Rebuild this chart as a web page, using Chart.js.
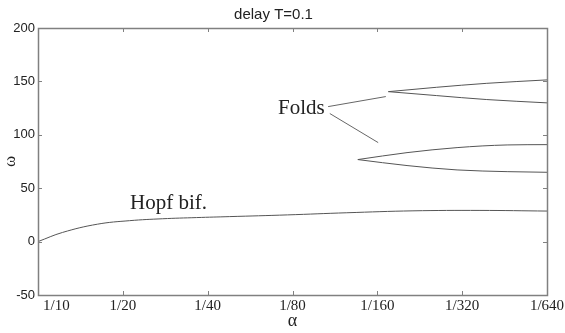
<!DOCTYPE html>
<html>
<head>
<meta charset="utf-8">
<script src="https://cdn.jsdelivr.net/npm/chart.js@4/dist/chart.umd.min.js"></script>
<style>
    body { margin: 0; background: #fff; }
    #wrap { width: 565px; height: 333px; position: relative; }
</style>
</head>
<body>
<div id="wrap"><canvas id="bifChart"></canvas></div>
<script>
// x position is the octave index: 0 -> alpha=1/10, 6 -> alpha=1/640
const alphaLabels = ['1/10', '1/20', '1/40', '1/80', '1/160', '1/320', '1/640'];

// Hopf bifurcation curve
const hopfX = [0, 0.29, 0.70, 1.08, 1.47, 1.87, 2.26, 2.94, 3.64, 4.42, 5.21, 6];
const hopfW = [0, 8.6, 16.3, 19.6, 21.4, 22.5, 23.4, 25, 27, 28.8, 29.2, 28.6];

// lower fold (two branches from the tip)
const fold1X = [3.77, 4.35, 4.94, 5.53, 6];
const fold1Upper = [76.8, 83.3, 88, 90.5, 90.8];
const fold1Lower = [76.8, 71.2, 67.1, 65.5, 64.9];

// upper fold
const fold2X = [4.13, 4.70, 5.29, 6];
const fold2Upper = [140.4, 144.5, 148.2, 151.4];
const fold2Lower = [140.4, 136.7, 133, 129.9];

// pointer lines from the "Folds" label
const pointerA = [[3.42, 126.4], [4.10, 135.8]];
const pointerB = [[3.44, 119.9], [4.01, 92.7]];

// text labels (data coordinates)
const notes = [
    { text: 'Hopf bif.', x: 1.085, y: 35.6 },
    { text: 'Folds', x: 2.83, y: 124.5 }
];

const toPts = (xs, ys) => xs.map((x, i) => ({ x: x, y: ys[i] }));
const pairPts = arr => arr.map(p => ({ x: p[0], y: p[1] }));

const curveStyle = { showLine: true, pointRadius: 0, borderColor: '#555', borderWidth: 1, cubicInterpolationMode: 'monotone', fill: false };

const matlabBox = {
    id: 'matlabBox',
    afterDraw(chart) {
        const ctx = chart.ctx;
        const a = chart.chartArea;
        const xs = chart.scales.x, ys = chart.scales.y;
        ctx.save();
        ctx.strokeStyle = '#808080';
        ctx.lineWidth = 1;
        ctx.beginPath();
        // inward ticks
        xs.ticks.forEach(t => {
            const px = Math.round(xs.getPixelForValue(t.value)) + 0.5;
            if (t.value <= 0 || t.value >= 6) return;
            ctx.moveTo(px, a.bottom); ctx.lineTo(px, a.bottom - 4);
            ctx.moveTo(px, a.top); ctx.lineTo(px, a.top + 4);
        });
        ys.ticks.forEach(t => {
            const py = Math.round(ys.getPixelForValue(t.value)) + 0.5;
            ctx.moveTo(a.left, py); ctx.lineTo(a.left + 4, py);
            ctx.moveTo(a.right, py); ctx.lineTo(a.right - 4, py);
        });
        ctx.stroke();
        ctx.lineWidth = 1.5;
        ctx.strokeRect(Math.round(a.left) + 0.5, Math.round(a.top) + 0.5,
            Math.round(a.right - a.left), Math.round(a.bottom - a.top));

        // x tick labels (first one sits just inside the axis, like the original)
        ctx.fillStyle = '#222';
        ctx.font = '15px "Liberation Serif", serif';
        ctx.textBaseline = 'middle';
        alphaLabels.forEach((lab, i) => {
            const px = xs.getPixelForValue(i);
            if (i === 0) { ctx.textAlign = 'left'; ctx.fillText(lab, px + 5, a.bottom + 11); }
            else { ctx.textAlign = 'center'; ctx.fillText(lab, px, a.bottom + 11); }
        });

        // annotations
        ctx.font = '21px "Liberation Serif", serif';
        ctx.textAlign = 'left';
        notes.forEach(n => {
            ctx.fillText(n.text, xs.getPixelForValue(n.x), ys.getPixelForValue(n.y));
        });
        ctx.restore();
    }
};

new Chart(document.getElementById('bifChart'), {
    type: 'scatter',
    data: {
        datasets: [
            { data: toPts(hopfX, hopfW), ...curveStyle, cubicInterpolationMode: 'default', tension: 0.4 },
            { data: toPts(fold1X, fold1Upper), ...curveStyle },
            { data: toPts(fold1X, fold1Lower), ...curveStyle },
            { data: toPts(fold2X, fold2Upper), ...curveStyle },
            { data: toPts(fold2X, fold2Lower), ...curveStyle },
            { data: pairPts(pointerA), showLine: true, pointRadius: 0, borderColor: '#666', borderWidth: 1 },
            { data: pairPts(pointerB), showLine: true, pointRadius: 0, borderColor: '#666', borderWidth: 1 }
        ]
    },
    options: {
        responsive: true,
        maintainAspectRatio: false,
        animation: false,
        layout: { padding: { top: 0, right: 18, bottom: 0, left: 0 } },
        plugins: {
            legend: { display: false },
            tooltip: { enabled: false },
            title: {
                display: true,
                text: 'delay T=0.1',
                color: '#222',
                font: { family: '"Liberation Sans", Arial, sans-serif', size: 15, weight: 'normal' },
                padding: { top: 6, bottom: 4 }
            }
        },
        scales: {
            x: {
                type: 'linear',
                min: 0,
                max: 6,
                grid: { display: false },
                border: { display: false },
                ticks: { stepSize: 1, display: false },
                title: {
                    display: true,
                    text: 'α',
                    color: '#222',
                    font: { family: '"Liberation Serif", serif', size: 18 },
                    padding: { top: 0, bottom: 1 }
                },
                afterFit: s => { s.height = 38; }
            },
            y: {
                min: -50,
                max: 200,
                grid: { display: false, drawTicks: false },
                border: { display: false },
                ticks: {
                    stepSize: 50,
                    color: '#222',
                    padding: 3,
                    font: { family: '"Liberation Sans", Arial, sans-serif', size: 13 }
                },
                title: {
                    display: true,
                    text: 'ω',
                    color: '#222',
                    font: { family: '"Liberation Serif", serif', size: 17 },
                    padding: { top: 0, bottom: 0 }
                },
                afterFit: s => { s.width = 38; }
            }
        }
    },
    plugins: [matlabBox]
});
</script>
</body>
</html>
